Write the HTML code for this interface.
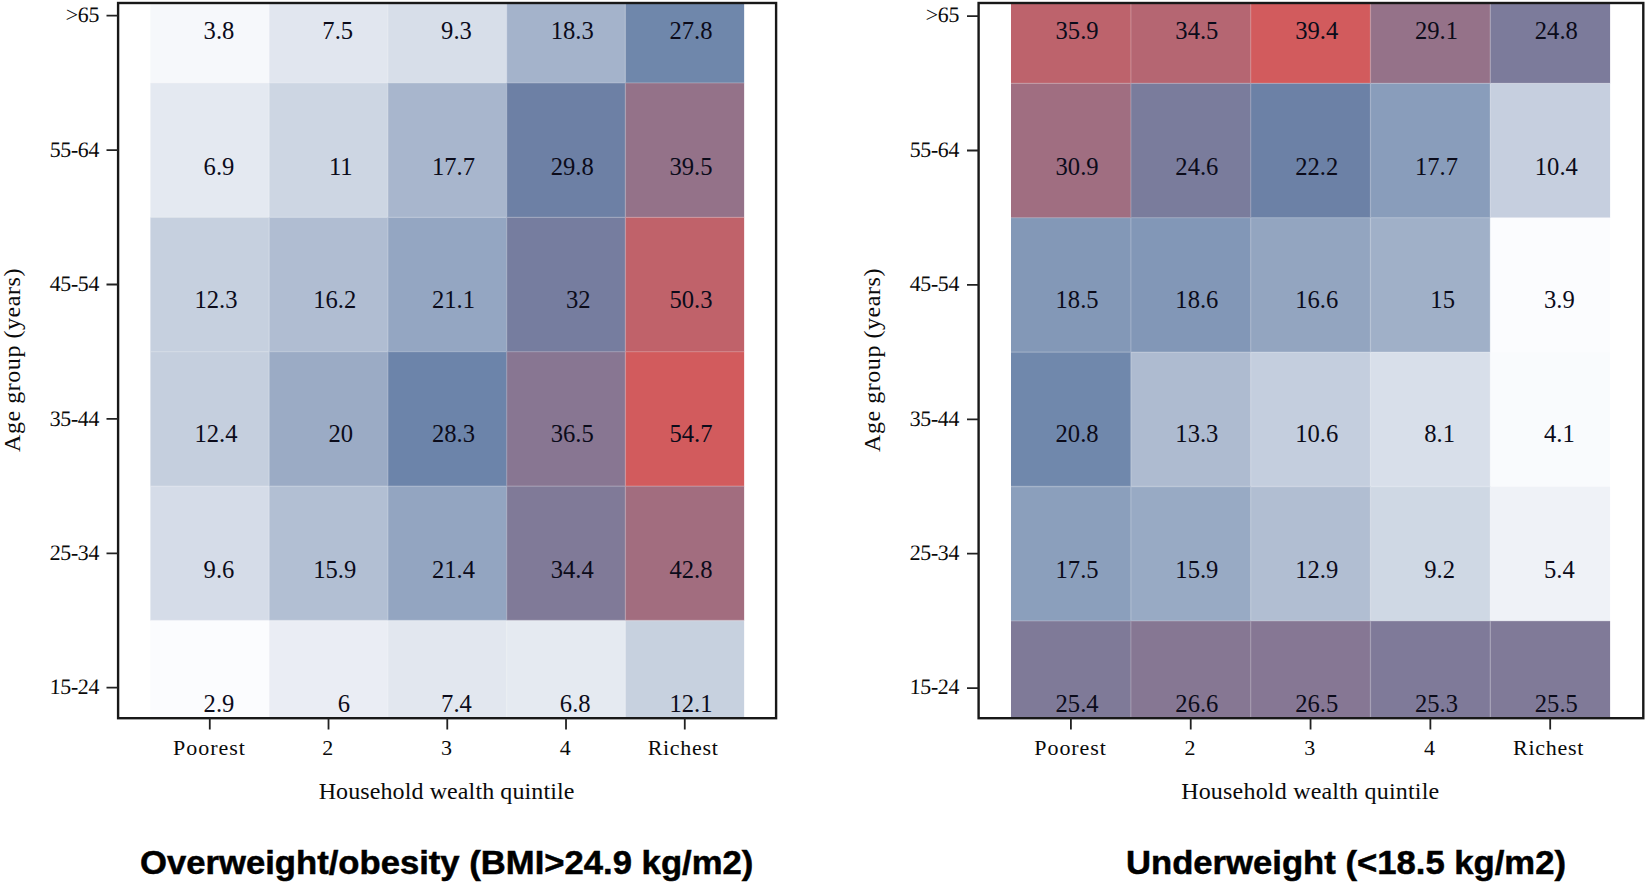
<!DOCTYPE html>
<html lang="en"><head><meta charset="utf-8"><title>Heatmaps</title><style>
html,body{margin:0;padding:0;background:#fff}
body{width:1645px;height:884px;position:relative;overflow:hidden;font-family:"Liberation Serif",serif;color:#111}
svg{position:absolute;left:0;top:0}
.v{position:absolute;width:120px;height:28px;line-height:28px;font-size:24.6px;text-align:center;white-space:pre;color:#0b0b1a}
.yl{position:absolute;width:100px;height:28px;line-height:28px;font-size:22px;text-align:right;letter-spacing:-.4px;transform:skewX(-2deg);color:#0a0a0a}
.xl{position:absolute;width:120px;height:28px;line-height:28px;font-size:22px;text-align:center;letter-spacing:.95px;text-indent:.95px;color:#0a0a0a}
.xt{position:absolute;width:400px;height:30px;line-height:30px;font-size:24px;text-align:center;letter-spacing:.1px;color:#0a0a0a}
.yt{position:absolute;width:0;height:0;transform:rotate(-90deg);transform-origin:0 0;color:#0a0a0a}
.yt span{position:absolute;left:-150px;top:0;width:300px;height:30px;line-height:30px;text-align:center;white-space:nowrap;font-size:24px;letter-spacing:.55px}
.tt{position:absolute;height:40px;line-height:40px;font-family:"Liberation Sans",sans-serif;font-weight:bold;font-size:33px;white-space:nowrap;color:#000;transform-origin:0 50%;-webkit-text-stroke:.5px #000}
</style></head><body>
<svg width="1645" height="884" viewBox="0 0 1645 884">
<rect x="150.4" y="3" width="119.05" height="80.2" fill="#f6f8fb"/>
<rect x="269.15" y="3" width="119.05" height="80.2" fill="#e1e6ef"/>
<rect x="387.9" y="3" width="119.05" height="80.2" fill="#d7dee9"/>
<rect x="506.65" y="3" width="119.05" height="80.2" fill="#a4b3cb"/>
<rect x="625.4" y="3" width="118.75" height="80.2" fill="#6f87ab"/>
<rect x="150.4" y="82.9" width="119.05" height="134.7" fill="#e4e9f1"/>
<rect x="269.15" y="82.9" width="119.05" height="134.7" fill="#cdd6e3"/>
<rect x="387.9" y="82.9" width="119.05" height="134.7" fill="#a8b6cd"/>
<rect x="506.65" y="82.9" width="119.05" height="134.7" fill="#6d80a5"/>
<rect x="625.4" y="82.9" width="118.75" height="134.7" fill="#947289"/>
<rect x="150.4" y="217.3" width="119.05" height="134.7" fill="#c6d0df"/>
<rect x="269.15" y="217.3" width="119.05" height="134.7" fill="#b0bdd2"/>
<rect x="387.9" y="217.3" width="119.05" height="134.7" fill="#94a6c2"/>
<rect x="506.65" y="217.3" width="119.05" height="134.7" fill="#767d9f"/>
<rect x="625.4" y="217.3" width="118.75" height="134.7" fill="#c0626a"/>
<rect x="150.4" y="351.7" width="119.05" height="134.7" fill="#c5cfde"/>
<rect x="269.15" y="351.7" width="119.05" height="134.7" fill="#9babc5"/>
<rect x="387.9" y="351.7" width="119.05" height="134.7" fill="#6c84aa"/>
<rect x="506.65" y="351.7" width="119.05" height="134.7" fill="#887692"/>
<rect x="625.4" y="351.7" width="118.75" height="134.7" fill="#d25b5d"/>
<rect x="150.4" y="486.1" width="119.05" height="134.7" fill="#d5dce8"/>
<rect x="269.15" y="486.1" width="119.05" height="134.7" fill="#b2bfd3"/>
<rect x="387.9" y="486.1" width="119.05" height="134.7" fill="#93a5c1"/>
<rect x="506.65" y="486.1" width="119.05" height="134.7" fill="#807a98"/>
<rect x="625.4" y="486.1" width="118.75" height="134.7" fill="#a26d7f"/>
<rect x="150.4" y="620.5" width="119.05" height="97.7" fill="#fbfcfe"/>
<rect x="269.15" y="620.5" width="119.05" height="97.7" fill="#eaedf4"/>
<rect x="387.9" y="620.5" width="119.05" height="97.7" fill="#e2e7ef"/>
<rect x="506.65" y="620.5" width="119.05" height="97.7" fill="#e5eaf1"/>
<rect x="625.4" y="620.5" width="118.75" height="97.7" fill="#c7d1df"/>
<path d="M269.15 3V718.2M387.9 3V718.2M506.65 3V718.2M625.4 3V718.2M150.4 82.9H744.15M150.4 217.3H744.15M150.4 351.7H744.15M150.4 486.1H744.15M150.4 620.5H744.15" stroke="#fff" stroke-opacity=".22" stroke-width="1.3" fill="none"/>
<rect x="118.1" y="3" width="658" height="715.2" fill="none" stroke="#181818" stroke-width="2.4"/>
<path d="M106.5 15.7H118.1M106.5 150.1H118.1M106.5 284.5H118.1M106.5 418.9H118.1M106.5 553.3H118.1M106.5 687.7H118.1M209.78 718.2V729.4M328.52 718.2V729.4M447.27 718.2V729.4M566.02 718.2V729.4M684.77 718.2V729.4" stroke="#222" stroke-width="1.8" fill="none"/>
<rect x="1011" y="3" width="120.12" height="80.6" fill="#bd636c"/>
<rect x="1130.82" y="3" width="120.12" height="80.6" fill="#b56672"/>
<rect x="1250.64" y="3" width="120.12" height="80.6" fill="#d25b5d"/>
<rect x="1370.46" y="3" width="120.12" height="80.6" fill="#957289"/>
<rect x="1490.28" y="3" width="119.82" height="80.6" fill="#7c7b9b"/>
<rect x="1011" y="83.3" width="120.12" height="134.7" fill="#a06e81"/>
<rect x="1130.82" y="83.3" width="120.12" height="134.7" fill="#7a7c9c"/>
<rect x="1250.64" y="83.3" width="120.12" height="134.7" fill="#6c81a6"/>
<rect x="1370.46" y="83.3" width="120.12" height="134.7" fill="#899dbb"/>
<rect x="1490.28" y="83.3" width="119.82" height="134.7" fill="#c6cfdf"/>
<rect x="1011" y="217.7" width="120.12" height="134.7" fill="#8398b7"/>
<rect x="1130.82" y="217.7" width="120.12" height="134.7" fill="#8297b7"/>
<rect x="1250.64" y="217.7" width="120.12" height="134.7" fill="#93a5c0"/>
<rect x="1370.46" y="217.7" width="120.12" height="134.7" fill="#a0b0c8"/>
<rect x="1490.28" y="217.7" width="119.82" height="134.7" fill="#fbfcfe"/>
<rect x="1011" y="352.1" width="120.12" height="134.7" fill="#7088ac"/>
<rect x="1130.82" y="352.1" width="120.12" height="134.7" fill="#aebbd0"/>
<rect x="1250.64" y="352.1" width="120.12" height="134.7" fill="#c4cede"/>
<rect x="1370.46" y="352.1" width="120.12" height="134.7" fill="#d8dfea"/>
<rect x="1490.28" y="352.1" width="119.82" height="134.7" fill="#f9fbfd"/>
<rect x="1011" y="486.5" width="120.12" height="134.7" fill="#8b9fbc"/>
<rect x="1130.82" y="486.5" width="120.12" height="134.7" fill="#98aac4"/>
<rect x="1250.64" y="486.5" width="120.12" height="134.7" fill="#b1bed2"/>
<rect x="1370.46" y="486.5" width="120.12" height="134.7" fill="#cfd8e4"/>
<rect x="1490.28" y="486.5" width="119.82" height="134.7" fill="#eff2f7"/>
<rect x="1011" y="620.9" width="120.12" height="97.3" fill="#7f7a98"/>
<rect x="1130.82" y="620.9" width="120.12" height="97.3" fill="#867793"/>
<rect x="1250.64" y="620.9" width="120.12" height="97.3" fill="#867794"/>
<rect x="1370.46" y="620.9" width="120.12" height="97.3" fill="#7f7a99"/>
<rect x="1490.28" y="620.9" width="119.82" height="97.3" fill="#807a98"/>
<path d="M1130.82 3V718.2M1250.64 3V718.2M1370.46 3V718.2M1490.28 3V718.2M1011 83.3H1610.1M1011 217.7H1610.1M1011 352.1H1610.1M1011 486.5H1610.1M1011 620.9H1610.1" stroke="#fff" stroke-opacity=".22" stroke-width="1.3" fill="none"/>
<rect x="978.6" y="3" width="664.7" height="715.2" fill="none" stroke="#181818" stroke-width="2.4"/>
<path d="M967 16.1H978.6M967 150.5H978.6M967 284.9H978.6M967 419.3H978.6M967 553.7H978.6M967 688.1H978.6M1070.91 718.2V729.4M1190.73 718.2V729.4M1310.55 718.2V729.4M1430.37 718.2V729.4M1550.19 718.2V729.4" stroke="#222" stroke-width="1.8" fill="none"/>
</svg>
<div class="v" style="left:149.78px;top:17.4px">   3.8</div>
<div class="v" style="left:268.52px;top:17.4px">   7.5</div>
<div class="v" style="left:387.27px;top:17.4px">   9.3</div>
<div class="v" style="left:506.02px;top:17.4px">  18.3</div>
<div class="v" style="left:624.77px;top:17.4px">  27.8</div>
<div class="v" style="left:149.78px;top:153px">   6.9</div>
<div class="v" style="left:268.52px;top:153px">    11</div>
<div class="v" style="left:387.27px;top:153px">  17.7</div>
<div class="v" style="left:506.02px;top:153px">  29.8</div>
<div class="v" style="left:624.77px;top:153px">  39.5</div>
<div class="v" style="left:149.78px;top:286.35px">  12.3</div>
<div class="v" style="left:268.52px;top:286.35px">  16.2</div>
<div class="v" style="left:387.27px;top:286.35px">  21.1</div>
<div class="v" style="left:506.02px;top:286.35px">    32</div>
<div class="v" style="left:624.77px;top:286.35px">  50.3</div>
<div class="v" style="left:149.78px;top:419.9px">  12.4</div>
<div class="v" style="left:268.52px;top:419.9px">    20</div>
<div class="v" style="left:387.27px;top:419.9px">  28.3</div>
<div class="v" style="left:506.02px;top:419.9px">  36.5</div>
<div class="v" style="left:624.77px;top:419.9px">  54.7</div>
<div class="v" style="left:149.78px;top:555.5px">   9.6</div>
<div class="v" style="left:268.52px;top:555.5px">  15.9</div>
<div class="v" style="left:387.27px;top:555.5px">  21.4</div>
<div class="v" style="left:506.02px;top:555.5px">  34.4</div>
<div class="v" style="left:624.77px;top:555.5px">  42.8</div>
<div class="v" style="left:149.78px;top:689.8px">   2.9</div>
<div class="v" style="left:268.52px;top:689.8px">     6</div>
<div class="v" style="left:387.27px;top:689.8px">   7.4</div>
<div class="v" style="left:506.02px;top:689.8px">   6.8</div>
<div class="v" style="left:624.77px;top:689.8px">  12.1</div>
<div class="yl" style="left:-1.2px;top:1.4px">&gt;65</div>
<div class="yl" style="left:-1.2px;top:135.8px">55-64</div>
<div class="yl" style="left:-1.2px;top:270.2px">45-54</div>
<div class="yl" style="left:-1.2px;top:404.6px">35-44</div>
<div class="yl" style="left:-1.2px;top:539px">25-34</div>
<div class="yl" style="left:-1.2px;top:673.4px">15-24</div>
<div class="xl" style="left:148.98px;top:734px">Poorest</div>
<div class="xl" style="left:267.72px;top:734px">2</div>
<div class="xl" style="left:386.47px;top:734px">3</div>
<div class="xl" style="left:505.22px;top:734px">4</div>
<div class="xl" style="left:622.77px;top:734px;letter-spacing:.7px;text-indent:.7px">Richest</div>
<div class="xt" style="left:246.6px;top:776.4px">Household wealth quintile</div>
<div class="yt" style="left:-3.5px;top:359.8px"><span>Age group (years)</span></div>
<div class="tt" style="left:139.5px;top:842.6px;transform:scaleX(1.05)">Overweight/obesity (BMI&gt;24.9 kg/m2)</div>
<div class="v" style="left:1010.91px;top:17.4px">  35.9</div>
<div class="v" style="left:1130.73px;top:17.4px">  34.5</div>
<div class="v" style="left:1250.55px;top:17.4px">  39.4</div>
<div class="v" style="left:1370.37px;top:17.4px">  29.1</div>
<div class="v" style="left:1490.19px;top:17.4px">  24.8</div>
<div class="v" style="left:1010.91px;top:153px">  30.9</div>
<div class="v" style="left:1130.73px;top:153px">  24.6</div>
<div class="v" style="left:1250.55px;top:153px">  22.2</div>
<div class="v" style="left:1370.37px;top:153px">  17.7</div>
<div class="v" style="left:1490.19px;top:153px">  10.4</div>
<div class="v" style="left:1010.91px;top:286.35px">  18.5</div>
<div class="v" style="left:1130.73px;top:286.35px">  18.6</div>
<div class="v" style="left:1250.55px;top:286.35px">  16.6</div>
<div class="v" style="left:1370.37px;top:286.35px">    15</div>
<div class="v" style="left:1490.19px;top:286.35px">   3.9</div>
<div class="v" style="left:1010.91px;top:419.9px">  20.8</div>
<div class="v" style="left:1130.73px;top:419.9px">  13.3</div>
<div class="v" style="left:1250.55px;top:419.9px">  10.6</div>
<div class="v" style="left:1370.37px;top:419.9px">   8.1</div>
<div class="v" style="left:1490.19px;top:419.9px">   4.1</div>
<div class="v" style="left:1010.91px;top:555.5px">  17.5</div>
<div class="v" style="left:1130.73px;top:555.5px">  15.9</div>
<div class="v" style="left:1250.55px;top:555.5px">  12.9</div>
<div class="v" style="left:1370.37px;top:555.5px">   9.2</div>
<div class="v" style="left:1490.19px;top:555.5px">   5.4</div>
<div class="v" style="left:1010.91px;top:689.8px">  25.4</div>
<div class="v" style="left:1130.73px;top:689.8px">  26.6</div>
<div class="v" style="left:1250.55px;top:689.8px">  26.5</div>
<div class="v" style="left:1370.37px;top:689.8px">  25.3</div>
<div class="v" style="left:1490.19px;top:689.8px">  25.5</div>
<div class="yl" style="left:859.1px;top:1.4px">&gt;65</div>
<div class="yl" style="left:859.1px;top:135.8px">55-64</div>
<div class="yl" style="left:859.1px;top:270.2px">45-54</div>
<div class="yl" style="left:859.1px;top:404.6px">35-44</div>
<div class="yl" style="left:859.1px;top:539px">25-34</div>
<div class="yl" style="left:859.1px;top:673.4px">15-24</div>
<div class="xl" style="left:1010.11px;top:734px">Poorest</div>
<div class="xl" style="left:1129.93px;top:734px">2</div>
<div class="xl" style="left:1249.75px;top:734px">3</div>
<div class="xl" style="left:1369.57px;top:734px">4</div>
<div class="xl" style="left:1488.19px;top:734px;letter-spacing:.7px;text-indent:.7px">Richest</div>
<div class="xt" style="left:1110.3px;top:776.4px;letter-spacing:.2px">Household wealth quintile</div>
<div class="yt" style="left:856.6px;top:359.8px"><span>Age group (years)</span></div>
<div class="tt" style="left:1126px;top:842.6px;transform:scaleX(1.05)">Underweight (&lt;18.5 kg/m2)</div>
</body></html>
